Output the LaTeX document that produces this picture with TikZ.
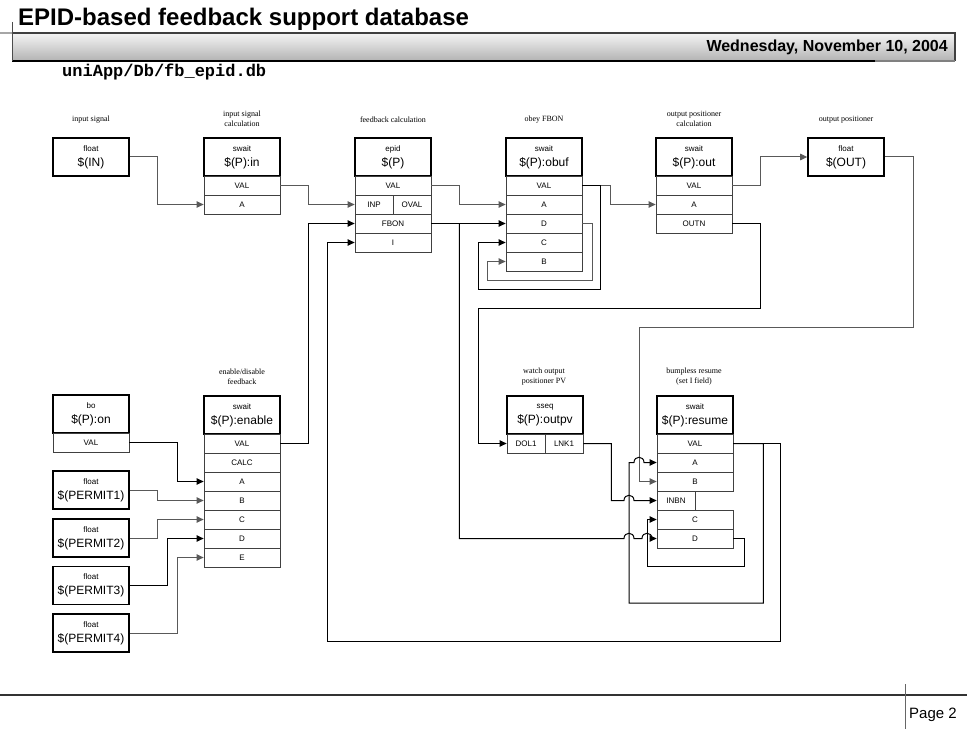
\documentclass[tikz,border=0pt]{standalone}
\usepackage{fontspec}
\setmainfont{Liberation Sans}
\newfontfamily\serifnote{Liberation Serif}
\newfontfamily\monopath{Liberation Mono}
\usetikzlibrary{arrows.meta}
\newcommand\fldsize{\fontsize{8}{9}\selectfont}
\newcommand\namesize{\fontsize{12}{15}\selectfont}
\newcommand\notesize{\serifnote\fontsize{8}{10}\selectfont}
\begin{document}
\begin{tikzpicture}[x=1pt,y=-1pt,
  head/.style={draw,line width=1.6pt,minimum width=76,minimum height=38,inner sep=0,align=center,font=\namesize},
  fld/.style={draw=black!75,line width=0.8pt,minimum width=76,minimum height=19,inner sep=0,font=\fldsize},
  half/.style={fld,minimum width=38},
  note/.style={align=center,font=\notesize,inner sep=0},
  blnk/.style={line width=1pt,-{Triangle[length=7pt,width=6.5pt]}},
  glnk/.style={blnk,draw=black!65}]
\useasboundingbox (0,0) rectangle (967,730);

% header and footer
\shade[top color=gray!8,bottom color=gray!60] (12,33) rectangle (955,61);
\draw[gray!70,line width=1.2] (0,33) -- (12,33);
\draw[black!75,line width=1.2] (12,33) -- (955,33) -- (955,61);
\draw[black,line width=1.2] (12,61) -- (875,61);
\draw[black!50,line width=1.2] (875,61) -- (955,61);
\draw[black!70,line width=1] (12,22) -- (12,61);
\node[anchor=base west,inner sep=0,font=\fontsize{24}{28}\selectfont\bfseries] (title) at (18,26) {EPID-based feedback support database};
\node[anchor=base east,inner sep=0,font=\fontsize{16}{19}\selectfont\bfseries] (date) at (948,52) {Wednesday, November 10, 2004};
\node[anchor=base west,inner sep=0,font=\monopath\fontsize{17}{20}\selectfont\bfseries] (path) at (62,77) {uniApp/Db/fb\_epid.db};
\draw[black!80,line width=1.5] (0,695) -- (967,695);
\draw[black!60,line width=1] (905,684) -- (905,729);
\node[anchor=base west,inner sep=0,font=\fontsize{15}{18}\selectfont] (page) at (909,718) {Page 2};

% labels
\node[note] (lIN) at (91,120) {input signal};
\node[note] (lin) at (242,119) {input signal\\calculation};
\node[note] (lepid) at (393,120) {feedback calculation};
\node[note] (lobuf) at (544,120) {obey FBON};
\node[note] (lout) at (694,119) {output positioner\\calculation};
\node[note] (lOUT) at (846,120) {output positioner};
\node[note] (lenable) at (242,377) {enable/disable\\feedback};
\node[note] (loutpv) at (544,377) {watch output\\positioner PV};
\node[note] (lresume) at (694,377) {bumpless resume\\(set I field)};

% top row
\node[head] (IN) at (91,157) {{\fldsize float}\\\$(IN)};

\node[head] (in) at (242,157) {{\fldsize swait}\\\$(P):in};
\node[fld] (inVAL) at (242,185.5) {VAL};
\node[fld] (inA) at (242,204.5) {A};

\node[head] (epid) at (393,157) {{\fldsize epid}\\\$(P)};
\node[fld] (epidVAL) at (393,185.5) {VAL};
\node[half] (epidINP) at (374,204.5) {INP};
\node[half] (epidOVAL) at (412,204.5) {OVAL};
\node[fld] (epidFBON) at (393,223.5) {FBON};
\node[fld] (epidI) at (393,242.5) {I};

\node[head] (obuf) at (544,157) {{\fldsize swait}\\\$(P):obuf};
\node[fld] (obufVAL) at (544,185.5) {VAL};
\node[fld] (obufA) at (544,204.5) {A};
\node[fld] (obufD) at (544,223.5) {D};
\node[fld] (obufC) at (544,242.5) {C};
\node[fld] (obufB) at (544,261.5) {B};

\node[head] (out) at (694,157) {{\fldsize swait}\\\$(P):out};
\node[fld] (outVAL) at (694,185.5) {VAL};
\node[fld] (outA) at (694,204.5) {A};
\node[fld] (outOUTN) at (694,223.5) {OUTN};

\node[head] (OUT) at (846,157) {{\fldsize float}\\\$(OUT)};

% bottom row
\node[head] (bo) at (91,414) {{\fldsize bo}\\\$(P):on};
\node[fld] (boVAL) at (91,442.5) {VAL};

\node[head] (P1) at (91,490) {{\fldsize float}\\\$(PERMIT1)};
\node[head] (P2) at (91,538) {{\fldsize float}\\\$(PERMIT2)};
\node[head] (P3) at (91,585.5) {{\fldsize float}\\\$(PERMIT3)};
\node[head] (P4) at (91,633) {{\fldsize float}\\\$(PERMIT4)};

\node[head] (enable) at (242,415) {{\fldsize swait}\\\$(P):enable};
\node[fld] (enableVAL) at (242,443.5) {VAL};
\node[fld] (enableCALC) at (242,462.5) {CALC};
\node[fld] (enableA) at (242,481.5) {A};
\node[fld] (enableB) at (242,500.5) {B};
\node[fld] (enableC) at (242,519.5) {C};
\node[fld] (enableD) at (242,538.5) {D};
\node[fld] (enableE) at (242,557.5) {E};

\node[head] (outpv) at (545,415) {{\fldsize sseq}\\\$(P):outpv};
\node[half] (outpvDOL1) at (526,443.5) {DOL1};
\node[half] (outpvLNK1) at (564,443.5) {LNK1};

\node[head] (resume) at (695,415) {{\fldsize swait}\\\$(P):resume};
\node[fld] (resumeVAL) at (695,443.5) {VAL};
\node[fld] (resumeA) at (695,462.5) {A};
\node[fld] (resumeB) at (695,481.5) {B};
\node[half] (resumeINBN) at (676,500.5) {INBN};
\node[fld] (resumeC) at (695,519.5) {C};
\node[fld] (resumeD) at (695,538.5) {D};

% links
\draw[glnk] (IN.east) -- ++(28,0) |- (inA.west);
\draw[glnk] (inVAL.east) -- ++(28,0) |- (epidINP.west);
\draw[glnk] (epidVAL.east) -- ++(28,0) |- (obufA.west);
\draw[blnk] (epidFBON.east) -- (obufD.west);
\draw[blnk] ([xshift=28]epidFBON.east) |- (624,538.5)
  .. controls +(0,-7) and +(0,-7) .. (634,538.5) -- (642,538.5)
  .. controls +(0,-7) and +(0,-7) .. (652,538.5) -- (resumeD.west);
\draw[glnk] (obufVAL.east) -- ++(28,0) |- (outA.west);
\draw[blnk] (obufVAL.east) -- ++(18,0) |- (478,290) |- (obufC.west);
\draw[glnk] (obufD.east) -- ++(10,0) |- (487,281) |- (obufB.west);
\draw[glnk] (outVAL.east) -- ++(28,0) |- (OUT.west);
\draw[blnk] (outOUTN.east) -- ++(28,0) |- (478,308) |- (outpvDOL1.west);
\draw[glnk] (OUT.east) -- ++(29,0) |- (639,327) |- (resumeB.west);
\draw[blnk] (outpvLNK1.east) -- ++(28,0) |- (624,500.5)
  .. controls +(0,-7) and +(0,-7) .. (634,500.5) -- (resumeINBN.west);
\draw[blnk] (resumeVAL.east) -- ++(30,0) |- (629,603) |- (634,462.5)
  .. controls +(0,-7) and +(0,-7) .. (644,462.5) -- (resumeA.west);
\draw[blnk] (resumeVAL.east) -- ++(47,0) |- (327,641) |- (epidI.west);
\draw[blnk] (resumeD.east) -- ++(11,0) |- (647,566) |- (resumeC.west);
\draw[blnk] (enableVAL.east) -- ++(28,0) |- (epidFBON.west);
\draw[blnk] (boVAL.east) -- ++(48,0) |- (enableA.west);
\draw[glnk] (P1.east) -- ++(28,0) |- (enableB.west);
\draw[glnk] (P2.east) -- ++(28,0) |- (enableC.west);
\draw[blnk] (P3.east) -- ++(38,0) |- (enableD.west);
\draw[glnk] (P4.east) -- ++(48,0) |- (enableE.west);
\end{tikzpicture}
\end{document}
